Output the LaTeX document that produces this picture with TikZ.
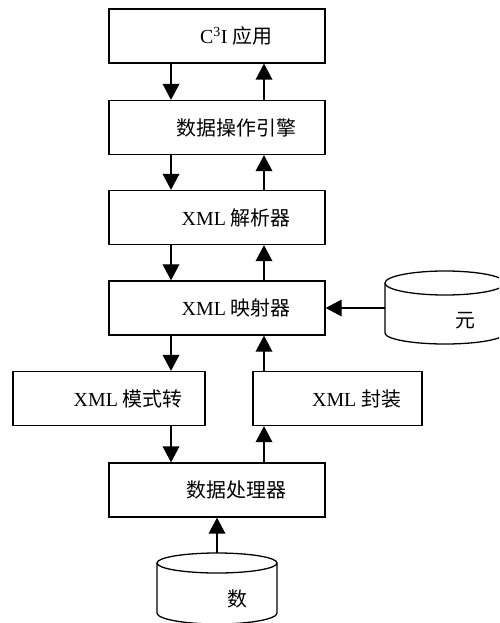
\documentclass[tikz,border=0pt]{standalone}
\usepackage{fontspec}
\setmainfont{Liberation Serif}
\newfontfamily\cjk{Noto Sans CJK SC}
\usepackage{tikz}
\usetikzlibrary{arrows.meta}
\newcommand{\zh}[1]{{\cjk #1}}
\newcommand{\pad}{\hspace*{1.15cm}}

\begin{document}
\begin{tikzpicture}[
          x=0.03cm, y=-0.03cm,
          font=\fontsize{17}{20}\selectfont,
          blk/.style={draw, line width=1.1pt, minimum height=1.62cm, inner sep=0pt},
          wide/.style={blk, minimum width=6.48cm},
          flow/.style={line width=1.1pt, -{Triangle[length=0.48cm, width=0.5cm]}},
          db/.style={line width=1.1pt}
      ]
        \useasboundingbox (0,0) rectangle (499,623);
        \clip (0,0) rectangle (499,623);

        \node[wide] (app)  at (217,36)    {\pad C\textsuperscript{3}I \zh{应用}};
        \node[wide] (eng)  at (217,127.5) {\pad\zh{数据操作引擎}};
        \node[wide] (prs)  at (217,217.5) {\pad XML \zh{解析器}};
        \node[wide] (map)  at (217,308)   {\pad XML \zh{映射器}};
        \node[blk, minimum width=5.76cm] (mod) at (109,398.5) {\pad XML \zh{模式转}};
        \node[blk, minimum width=5.07cm] (pkg) at (337.5,398.5) {\pad XML \zh{封装}};
        \node[wide] (proc) at (217,490)   {\pad\zh{数据处理器}};

        % cylinders
        \draw[db] (385,283) -- (385,333)
            arc[start angle=180, end angle=360, x radius=1.8cm, y radius=0.33cm] -- (505,283);
        \draw[db] (445,283) ellipse[x radius=1.8cm, y radius=0.36cm];
        \node (meta) at (465,321) {\zh{元}};
        \coordinate (metaw) at (385,308);

        \draw[db] (157,563) -- (157,613)
            arc[start angle=180, end angle=360, x radius=1.8cm, y radius=0.33cm] -- (277,563);
        \draw[db] (217,563) ellipse[x radius=1.8cm, y radius=0.3cm];
        \node (data) at (237,599) {\zh{数}};
        \coordinate (dbtop) at (217,553);

        \coordinate (dn) at (171,0);
        \coordinate (up) at (264,0);

        \draw[flow] (app.south -| dn) -- (eng.north -| dn);
        \draw[flow] (eng.north -| up) -- (app.south -| up);
        \draw[flow] (eng.south -| dn) -- (prs.north -| dn);
        \draw[flow] (prs.north -| up) -- (eng.south -| up);
        \draw[flow] (prs.south -| dn) -- (map.north -| dn);
        \draw[flow] (map.north -| up) -- (prs.south -| up);
        \draw[flow] (metaw) -- (map.east);
        \draw[flow] (map.south -| dn) -- (mod.north -| dn);
        \draw[flow] (pkg.north -| up) -- (map.south -| up);
        \draw[flow] (mod.south -| dn) -- (proc.north -| dn);
        \draw[flow] (proc.north -| up) -- (pkg.south -| up);
        \draw[flow] (dbtop) -- (proc.south);
      \end{tikzpicture}
\end{document}
